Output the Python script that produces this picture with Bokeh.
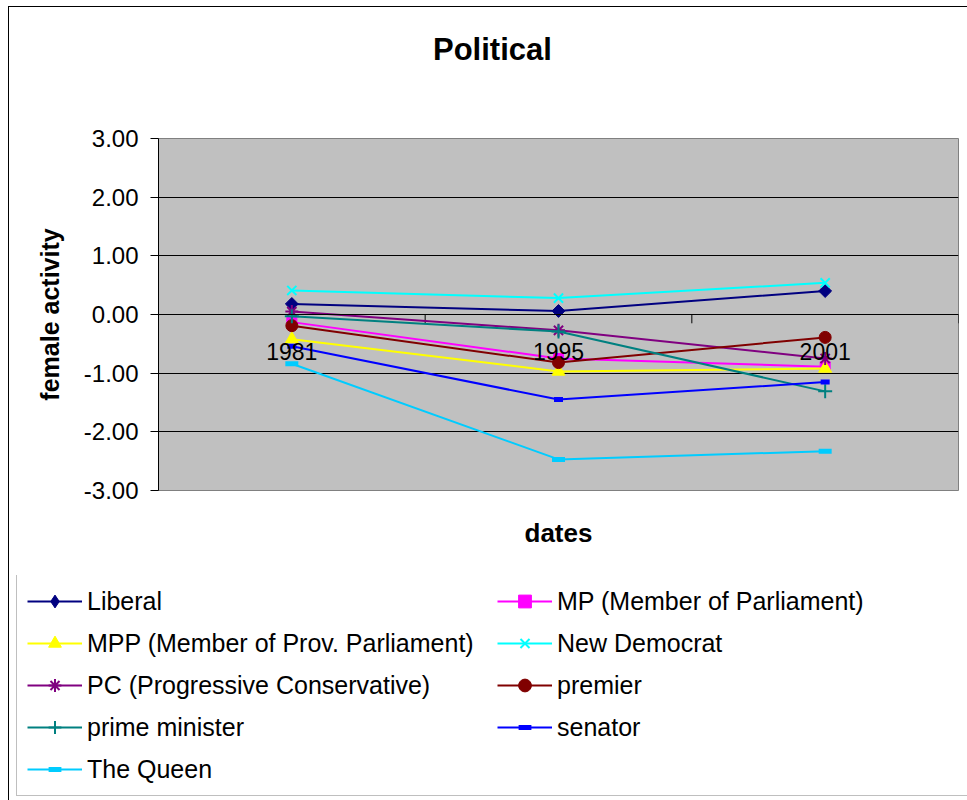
from bokeh.plotting import figure
from bokeh.models import (FactorRange, Range1d, FixedTicker, NumeralTickFormatter,
                          Span, Legend, LegendItem, ColumnDataSource, Title, Column, Div)
from bokeh.core.properties import value
from bokeh.embed import file_html
from bokeh.resources import INLINE

# ---- data -------------------------------------------------------------
dates = ["1981", "1995", "2001"]

liberal = [0.18, 0.06, 0.40]
mp = [-0.13, -0.75, -0.89]
mpp = [-0.42, -0.97, -0.92]
new_democrat = [0.41, 0.28, 0.54]
pc = [0.05, -0.27, -0.75]
premier = [-0.19, -0.82, -0.39]
prime_minister = [-0.03, -0.29, -1.31]
senator = [-0.54, -1.45, -1.15]
the_queen = [-0.84, -2.47, -2.33]

y_ticks = [-3, -2, -1, 0, 1, 2, 3]

series = [
    ("Liberal", liberal, "#000080", "diamond", 14),
    ("MP (Member of Parliament)", mp, "#FF00FF", "square", 10),
    ("MPP (Member of Prov. Parliament)", mpp, "#FFFF00", "triangle", 13),
    ("New Democrat", new_democrat, "#00FFFF", "x", 13),
    ("PC (Progressive Conservative)", pc, "#800080", "asterisk", 13),
    ("premier", premier, "#800000", "circle", 12),
    ("prime minister", prime_minister, "#008080", "cross", 14),
    ("senator", senator, "#0000FF", "dash", 9),
    ("The Queen", the_queen, "#00CCFF", "dash", 13),
]

FONT = "Liberation Sans"


def add_series(fig, x, y, color, marker, size):
    """Line plus marker for one series; returns both renderers."""
    ln = fig.line(x, y, line_color=color, line_width=2)
    if marker == "dash":
        mk = fig.scatter(x, y, marker="dash", size=size, line_color=color, line_width=5)
    elif marker in ("x", "cross", "asterisk"):
        mk = fig.scatter(x, y, marker=marker, size=size, line_color=color, line_width=2)
    elif marker == "diamond":
        # a square turned on its corner: as wide as it is tall
        mk = fig.scatter(x, y, marker="square", size=size * 0.65, angle=45, angle_units="deg",
                         fill_color=color, line_color=color)
    else:
        mk = fig.scatter(x, y, marker=marker, size=size, fill_color=color, line_color=color)
    return [ln, mk]


# ---- chart title ------------------------------------------------------
heading = Div(width=958, height=95, margin=0,
              text=("<div style=\"position:absolute;left:424px;top:25px;"
                    "font-family:'Liberation Sans';font-size:31px;font-weight:bold;"
                    "line-height:36px;color:black;white-space:nowrap\">Political</div>"))

# ---- chart ------------------------------------------------------------
p = figure(width=958, height=473, output_backend="svg", toolbar_location=None,
           x_range=FactorRange(*dates, range_padding=0),
           y_range=Range1d(-3, 3), x_axis_location=None,
           min_border_left=149, min_border_right=9,
           min_border_top=36, min_border_bottom=85,
           background_fill_color="#C0C0C0", border_fill_color="white", margin=0)
p.frame_align = False
p.outline_line_color = "#808080"
p.outline_line_width = 1

p.add_layout(Title(text="dates", align="left", offset=366, standoff=51,
                   text_font=FONT, text_font_size="26px", text_font_style="bold",
                   text_color="black"), "below")

# y axis
p.yaxis.ticker = FixedTicker(ticks=y_ticks)
p.yaxis.formatter = NumeralTickFormatter(format="0.00")
p.yaxis.major_label_text_font = FONT
p.yaxis.major_label_text_font_size = "24px"
p.yaxis.major_label_text_color = "black"
p.yaxis.major_label_standoff = 12
p.yaxis.major_tick_in = 0
p.yaxis.major_tick_out = 8
p.yaxis.minor_tick_line_color = None
p.yaxis.axis_line_color = "black"
p.yaxis.major_tick_line_color = "black"
p.yaxis.axis_label = "female activity"
p.yaxis.axis_label_text_font = FONT
p.yaxis.axis_label_text_font_size = "25px"
p.yaxis.axis_label_text_font_style = "bold"
p.yaxis.axis_label_text_color = "black"
p.yaxis.axis_label_standoff = 17

p.xgrid.grid_line_color = None
p.ygrid.ticker = FixedTicker(ticks=y_ticks)
p.ygrid.grid_line_color = "black"
p.ygrid.grid_line_width = 1

# category axis line through zero, with tick marks at the category edges
p.add_layout(Span(location=0, dimension="width", line_color="black", line_width=1))
edges = ColumnDataSource(dict(x=[("1981", -0.5), ("1995", -0.5), ("2001", -0.5), ("2001", 0.5)],
                              y0=[0, 0, 0, 0], y1=[-0.15, -0.15, -0.15, -0.15]))
p.segment(x0="x", y0="y0", x1="x", y1="y1", source=edges, line_color="black", line_width=1)

for name, vals, color, marker, size in series:
    add_series(p, dates, vals, color, marker, size)

# category labels drawn on top of the series
p.text(x=dates, y=[0, 0, 0], text=dates, text_font=value(FONT), text_font_size="23px",
       text_color="black", text_align="center", text_baseline="middle", y_offset=37)

# ---- legend panel -----------------------------------------------------
# the series are repeated here outside the visible y range so the legend
# can draw each line/marker sample
leg = figure(width=958, height=225, output_backend="svg", toolbar_location=None,
             x_range=FactorRange(*dates), y_range=Range1d(100, 101),
             x_axis_location=None, y_axis_location=None,
             min_border=0, border_fill_color="white", background_fill_color="white", margin=0)
leg.frame_align = False
leg.outline_line_color = None
leg.grid.visible = False

items = []
for name, vals, color, marker, size in series:
    rs = add_series(leg, dates, vals, color, marker, size)
    if marker == "diamond":
        # legend samples ignore marker rotation, so use a true diamond there
        rs[1].glyph.marker = "diamond"
        rs[1].glyph.size = 16
        rs[1].glyph.angle = 0
    items.append(LegendItem(label=name, renderers=rs))

legend = Legend(items=items, location=(7, 4), orientation="horizontal", ncols=2,
                label_text_font=FONT, label_text_font_size="25px", label_text_color="black",
                glyph_width=55, glyph_height=32, label_height=25, label_width=400,
                label_standoff=5, spacing=10, padding=10, margin=0,
                border_line_color="#808080", border_line_width=1,
                background_fill_color="white", background_fill_alpha=1)
leg.add_layout(legend, "center")

page = Column(children=[heading, p, leg], spacing=0, margin=(6, 0, 0, 8),
              styles={"border-left": "1px solid black", "border-top": "1px solid black"})

open("out.html", "w").write(file_html(page, INLINE))
